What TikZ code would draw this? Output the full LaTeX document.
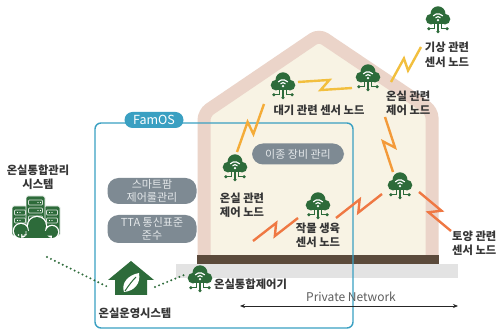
\documentclass[tikz,border=0pt]{standalone}
\usepackage{fontspec}
\setmainfont{Noto Sans CJK KR}
\usetikzlibrary{calc,arrows.meta}

\definecolor{roofpink}{HTML}{EBD4C9}
\definecolor{cream}{HTML}{F8F3E4}
\definecolor{floorbrown}{HTML}{5B4A3B}
\definecolor{groundgray}{HTML}{E3E3E3}
\definecolor{famteal}{HTML}{3AA0C2}
\definecolor{leafgreen}{HTML}{2D6B3A}
\definecolor{pillgray}{HTML}{7E8A93}
\definecolor{pilltext}{HTML}{E4E8EA}
\definecolor{boltyellow}{HTML}{F2BF3E}
\definecolor{boltamber}{HTML}{F4AC38}
\definecolor{boltorange}{HTML}{F39A3A}
\definecolor{boltred}{HTML}{EF7843}
\definecolor{labelgray}{HTML}{363636}
\definecolor{netgray}{HTML}{5E5E5E}

% zig-zag radio link between two points
\newcommand\zapline[4]{%
  \path (#2) -- (#3) coordinate[pos=0.57] (zapA) coordinate[pos=0.43] (zapB);
  \draw[#1] (#2) -- ($(zapA)!#4!90:(#3)$) -- ($(zapB)!#4!-90:(#3)$) -- (#3);
}

\tikzset{
  lbl/.style={text=labelgray, font=\fontsize{11.3}{14.5}\selectfont\bfseries, inner sep=0},
  pill/.style={fill=pillgray, text=pilltext, rounded corners=11, inner sep=0,
    font=\fontsize{11}{12.8}\selectfont, align=center},
  iconspot/.style={inner sep=0, minimum size=20},
  bolt/.style={line width=2.4, line join=miter, line cap=butt},
  dotline/.style={leafgreen, line width=2.2, line cap=round, dash pattern=on 0pt off 4.4pt},
  sensor/.pic={
    \begin{scope}[scale=1.07]
    \fill[leafgreen] (0,-3) circle (7);
    \fill[leafgreen] (-6.5,2) circle (5);
    \fill[leafgreen] (6.5,2) circle (5);
    \fill[leafgreen] (-6.5,2) rectangle (6.5,7);
    \fill[white] (0,3) circle (1.2);
    \draw[white,line width=1.2] (0,3) ++(-135:3.3) arc(-135:-45:3.3);
    \draw[white,line width=1.2] (0,3) ++(-138:6) arc(-138:-42:6);
    \draw[leafgreen,line width=1.3] (-3.5,6) -- (-3.5,11) -- (-7.5,11)
      (0,6) -- (0,13) (3.5,6) -- (3.5,11) -- (7.5,11);
    \fill[leafgreen] (-8.5,11) circle (1.6) (0,13.6) circle (1.6) (8.5,11) circle (1.6);
    \end{scope}
  }
}

\begin{document}
\begin{tikzpicture}[x=1pt,y=-1pt]
\useasboundingbox[fill=white] (0,0) rectangle (499,331);

% greenhouse body
\fill[cream] (204,255) -- (204,113) -- (319,35) -- (432,111) -- (432,255) -- cycle;
\draw[roofpink, line width=13, rounded corners=7] (204,255) -- (204,113) -- (319,35) -- (432,111) -- (432,255);
\fill[floorbrown] (197,255) rectangle (439,264);
\fill[groundgray] (176,264) rectangle (458,278);

% FamOS domain
\draw[famteal, line width=1.4, rounded corners=6] (95,123) rectangle (353,328);
\node[fill=famteal, text=white, rounded corners=8, minimum width=59, minimum height=16,
  inner sep=0, font=\fontsize{12.5}{13}\selectfont] (fam) at (154,120) {FamOS};

% functions
\node[pill, minimum width=92, minimum height=21] (mix) at (298,154) {이종 장비 관리};
\node[pill, minimum width=89, minimum height=26] (rule) at (152,191) {스마트팜\\제어룰관리};
\node[pill, minimum width=89, minimum height=28] (tta) at (152,229) {TTA 통신표준\\준수};

% field nodes
\node[iconspot] (wx) at (438,17) {};
\node[iconspot] (air) at (283,83) {};
\node[iconspot] (ctla) at (368,75) {};
\node[iconspot] (ctlb) at (235,165) {};
\node[iconspot] (crop) at (318,203) {};
\node[iconspot] (soil) at (400,183) {};
\node[iconspot] (hub) at (200,276) {};
\foreach \n in {wx,air,ctla,ctlb,crop,soil,hub} \pic at (\n) {sensor};

\node[lbl, align=center] (wxlbl) at (447,55) {기상 관련\\센서 노드};
\node[lbl] (airlbl) at (319,110) {대기 관련 센서 노드};
\node[lbl, align=left, anchor=west] (ctlalbl) at (386,103.5) {온실 관련\\제어 노드};
\node[lbl, align=center] (ctlblbl) at (242,205.5) {온실 관련\\제어 노드};
\node[lbl, align=center] (croplbl) at (318,235.5) {작물 생육\\센서 노드};
\node[lbl, align=left, anchor=west] (soillbl) at (452,243.5) {토양 관련\\센서 노드};
\node[lbl, anchor=west] (hublbl) at (214,284) {온실통합제어기};

% radio links
\coordinate (b1s) at (391,82);  \coordinate (b1e) at (421,47);
\coordinate (b2s) at (298,82);  \coordinate (b2e) at (352,88);
\coordinate (b3s) at (264,104); \coordinate (b3e) at (237,152);
\coordinate (b4s) at (385,117); \coordinate (b4e) at (393,172);
\coordinate (b5s) at (336,218); \coordinate (b5e) at (382,194);
\coordinate (b6s) at (253,241); \coordinate (b6e) at (298,218);
\coordinate (b7s) at (419,192); \coordinate (b7e) at (451,231);
\zapline{bolt, boltyellow}{b1s}{b1e}{5.5pt}
\zapline{bolt, boltyellow}{b2s}{b2e}{5.5pt}
\zapline{bolt, boltamber}{b3s}{b3e}{5.5pt}
\zapline{bolt, boltorange}{b4s}{b4e}{5.5pt}
\zapline{bolt, boltred}{b5s}{b5e}{5.5pt}
\zapline{bolt, boltred}{b6s}{b6e}{5.5pt}
\zapline{bolt, boltred}{b7s}{b7e}{5.5pt}

% integrated management server
\node[inner sep=0, minimum width=48, minimum height=44] (srv) at (36,218) {};
\begin{scope}[draw=white, line width=0.9]
  \filldraw[fill=leafgreen, rounded corners=1.5] (12,206) rectangle (28,236);
  \filldraw[fill=leafgreen, rounded corners=1.5] (44,206) rectangle (60,236);
  \filldraw[fill=leafgreen, rounded corners=1.5] (26,196) rectangle (45,236);
\end{scope}
\foreach \y in {200,208,216} {
  \draw[white!80!leafgreen, line width=0.7, rounded corners=0.8] (28.5,\y) rectangle (42.5,\y+5);
  \fill[white] (38,\y+2.5) circle (0.7) (40.5,\y+2.5) circle (0.7);
}
\foreach \x in {14.5,46.5} \foreach \y in {210,218} {
  \draw[white!80!leafgreen, line width=0.7, rounded corners=0.8] (\x,\y) rectangle (\x+11,\y+5);
  \fill[white] (\x+3,\y+2.5) circle (0.7) (\x+5.5,\y+2.5) circle (0.7);
}
\fill[white] (37,226) circle (10.3) (21,231) circle (8.3) (52,232) circle (7.3) (20,230) rectangle (53,239.3);
\fill[leafgreen] (37,226) circle (9) (21,231) circle (7) (52,232) circle (6) (21,231) rectangle (52,238);
\fill[white] (18.5,235) circle (0.9) (21.8,235) circle (0.9) (25.1,235) circle (0.9);
\node[lbl, align=center] (srvlbl) at (38,177) {온실통합관리\\시스템};

% greenhouse operating system
\node[inner sep=0, minimum width=42, minimum height=33] (gos) at (131,279) {};
\fill[leafgreen] (108,280) -- (131,261) -- (154,280) -- (147,280) -- (147,295) -- (115,295) -- (115,280) -- cycle;
\fill[white] (124,292) .. controls (121,283) and (128,275) .. (139,273)
  .. controls (141,284) and (134,291) .. (124,292) -- cycle;
\draw[leafgreen, line width=1] (125,291) .. controls (129,285) and (132,281) .. (136,277);
\node[lbl] (goslbl) at (135,313) {온실운영시스템};

% wired links
\coordinate (d1s) at (47,257); \coordinate (d1e) at (108,287);
\coordinate (d2s) at (155,287); \coordinate (d2e) at (184,275);
\draw[dotline] (d1s) -- (d1e);
\draw[dotline] (d2s) -- (d2e);

% private network span
\coordinate (pnL) at (240,306); \coordinate (pnR) at (458,306);
\draw[{Stealth[length=5,width=4]}-{Stealth[length=5,width=4]}, line width=0.8, black!85] (pnL) -- (pnR);
\node[text=netgray, font=\fontsize{12}{12}\selectfont, inner sep=0] (pn) at (351,297) {Private Network};
\end{tikzpicture}
\end{document}
